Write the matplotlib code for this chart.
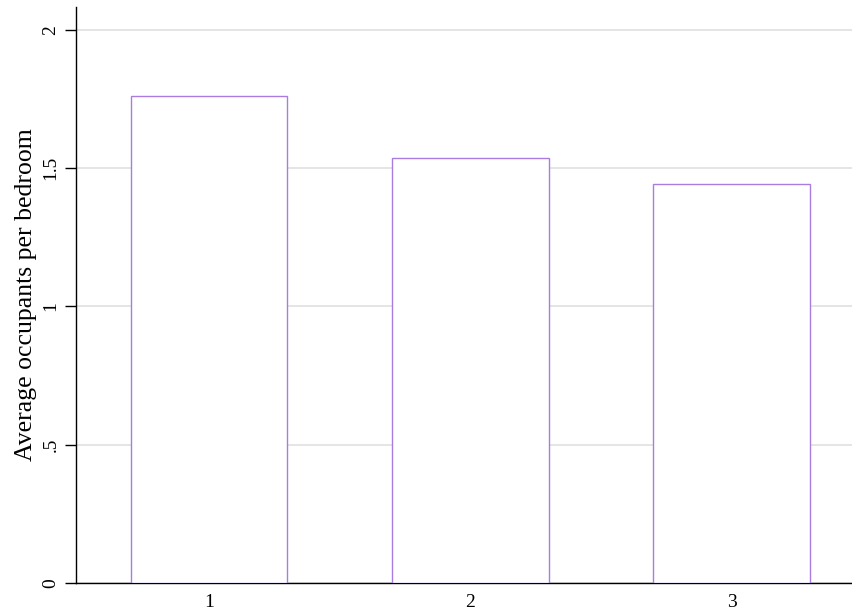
import matplotlib.pyplot as plt

categories = [1, 2, 3]
values = [1.761, 1.536, 1.442]
yticks = [0, 0.5, 1, 1.5, 2]
ytick_labels = ['0', '.5', '1', '1.5', '2']

plt.rcParams['font.family'] = ['Liberation Serif', 'DejaVu Serif']

fig = plt.figure(figsize=(8.53, 6.12), dpi=100)
ax = fig.add_axes([0.089, 0.047, 0.911, 0.942])

ax.bar(categories, values, width=0.6, facecolor='white', edgecolor='#a87ddf', linewidth=1.0, zorder=3)

ax.set_xlim(0.491, 3.463)
ax.set_ylim(0, 2.083)
ax.set_xticks(categories)
ax.set_xticklabels([str(c) for c in categories], fontsize=14)
ax.tick_params(axis='x', length=0, pad=8)
ax.set_yticks(yticks)
ax.set_yticklabels(ytick_labels, fontsize=14, rotation=90, va='center')
ax.tick_params(axis='y', length=8, width=1, pad=4)
ax.yaxis.grid(True, color='#e0e0e0', linewidth=1.2, zorder=0)
ax.set_axisbelow(True)

for s in ['top', 'right']:
    ax.spines[s].set_visible(False)
ax.spines['left'].set_linewidth(1)
ax.spines['bottom'].set_linewidth(1)

ax.set_ylabel('Average occupants per bedroom', fontsize=18.5, labelpad=4)

fig.savefig('out.png', dpi=100)
